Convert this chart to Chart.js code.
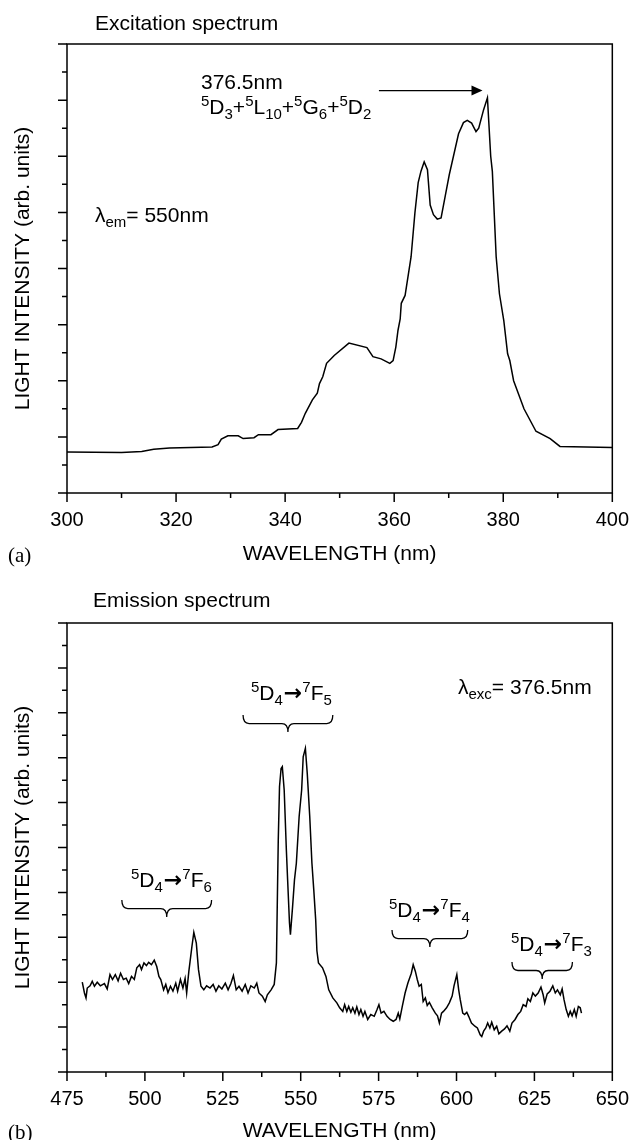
<!DOCTYPE html>
<html><head><meta charset="utf-8">
<script src="https://cdn.jsdelivr.net/npm/chart.js@4.4.1/dist/chart.umd.min.js"></script>
<style>
body{margin:0;background:#fff;}
#wrap{position:relative;width:644px;height:1140px;overflow:hidden;font-family:"Liberation Sans",Arial,sans-serif;color:#000;}
canvas{position:absolute;left:0;}
.t{position:absolute;white-space:nowrap;font-size:21px;line-height:24px;}
.sup{font-size:15px;vertical-align:8px;line-height:0;}
.sub{font-size:15px;vertical-align:-5px;line-height:0;}
.arr{font-family:"DejaVu Sans",sans-serif;font-size:22px;font-weight:bold;margin:0 0 0 1px;line-height:0;}
.serif{font-family:"Liberation Serif","Times New Roman",serif;}
</style></head>
<body><div id="wrap">
<canvas id="cA" width="644" height="570" style="top:0"></canvas>
<canvas id="cB" width="644" height="560" style="top:580px"></canvas>
<div class="t" style="left:95px;top:11px">Excitation spectrum</div>
<div class="t" style="left:201px;top:70px">376.5nm</div>
<div class="t" style="left:201px;top:95px"><span class="sup">5</span>D<span class="sub">3</span>+<span class="sup">5</span>L<span class="sub">10</span>+<span class="sup">5</span>G<span class="sub">6</span>+<span class="sup">5</span>D<span class="sub">2</span></div>
<div class="t" style="left:95px;top:203px">λ<span class="sub">em</span>= 550nm</div>
<div class="t serif" style="left:8px;top:543px">(a)</div>
<div class="t" style="left:93px;top:588px">Emission spectrum</div>
<div class="t" style="left:458px;top:675px">λ<span class="sub">exc</span>= 376.5nm</div>
<div class="t" style="left:251px;top:681px"><span class="sup">5</span>D<span class="sub">4</span><span class="arr">→</span><span class="sup">7</span>F<span class="sub">5</span></div>
<div class="t" style="left:131px;top:868px"><span class="sup">5</span>D<span class="sub">4</span><span class="arr">→</span><span class="sup">7</span>F<span class="sub">6</span></div>
<div class="t" style="left:389px;top:898px"><span class="sup">5</span>D<span class="sub">4</span><span class="arr">→</span><span class="sup">7</span>F<span class="sub">4</span></div>
<div class="t" style="left:511px;top:932px"><span class="sup">5</span>D<span class="sub">4</span><span class="arr">→</span><span class="sup">7</span>F<span class="sub">3</span></div>
<div class="t serif" style="left:8px;top:1120px">(b)</div>
</div>
<script>
// ---- Excitation spectrum (a) ----
const exWavelength = [300,310,313.7,315.9,318.8,326.6,327.7,328.3,329.5,331.4,332.3,334.3,335.1,337.4,338.7,342.3,343.0,343.7,345.0,345.9,346.3,346.9,347.6,349.0,351.7,355.0,356.1,357.6,359.2,359.8,360.3,360.7,361.1,361.3,362.0,363.1,363.8,364.4,364.9,365.5,366.1,366.6,367.2,367.9,368.6,369.4,370.1,371.8,372.7,373.4,374.2,375.0,375.5,376.4,377.1,377.7,378.0,378.7,379.3,380.1,380.8,381.2,381.9,383.8,386.0,388.6,390.4,400];
const exIntensity = [0.73,0.72,0.74,0.78,0.80,0.82,0.86,0.96,1.02,1.02,0.97,0.985,1.04,1.04,1.13,1.15,1.26,1.42,1.66,1.78,1.95,2.07,2.31,2.45,2.67,2.59,2.43,2.39,2.31,2.36,2.6,2.9,3.1,3.38,3.52,4.21,4.99,5.53,5.73,5.90,5.76,5.13,4.96,4.88,4.90,5.31,5.67,6.40,6.60,6.64,6.59,6.44,6.50,6.83,7.04,6.0,5.73,4.21,3.55,3.07,2.48,2.36,2.0,1.50,1.10,0.97,0.83,0.81];
const exXTicks = {min:300, max:400, step:10, labelEvery:20};
const exYTicks = {min:0, max:8, step:0.5, major:1};

// ---- Emission spectrum (b) ----
const emWavelength = [479.9,480.6,481.1,481.5,482.4,483.1,483.8,484.7,485.7,487.0,487.9,488.8,489.6,490.5,491.4,492.2,493.1,494.0,494.8,495.7,496.6,497.4,498.3,498.9,499.7,500.5,501.2,502.1,503.0,503.8,504.5,505.1,506.0,506.7,507.4,508.2,509.0,509.9,510.5,511.4,512.2,512.9,513.4,514.1,515.1,515.7,516.5,517.2,518.0,518.9,519.8,520.9,521.9,522.8,523.7,524.7,525.8,526.7,527.6,528.4,529.3,530.2,531.2,532.2,533.1,534.0,535.1,535.9,536.6,537.7,538.6,539.3,540.5,541.5,542.2,542.6,542.8,543.2,543.7,544.1,544.7,545.4,545.8,546.4,546.7,547.4,548.0,548.6,549.5,550.3,550.8,551.5,552.1,552.9,553.6,554.2,554.8,555.2,555.7,557.0,558.1,559.0,560.3,561.6,562.5,563.5,564.1,564.8,565.4,566.1,566.7,567.4,568.0,568.7,569.3,570.0,570.6,571.5,572.5,573.6,574.5,575.1,575.8,576.7,577.7,578.7,579.7,580.6,581.3,581.8,582.6,583.5,584.4,585.5,586.1,586.8,587.4,588.0,588.7,589.3,590.0,590.6,591.3,592.2,593.2,593.9,594.5,595.2,595.8,596.8,597.7,598.6,599.2,600.1,600.7,601.2,602.0,602.6,603.3,603.9,604.8,605.9,606.7,607.6,608.1,608.7,609.4,610.0,610.7,611.3,612.1,612.9,613.6,614.5,615.4,616.2,617.1,617.8,618.8,619.7,620.6,621.4,622.3,622.9,623.7,624.5,625.3,626.2,627.1,627.8,628.3,629.1,630.0,630.9,631.7,632.4,633.3,633.9,634.5,635.2,635.9,636.5,637.1,637.8,638.4,639.1,639.7,640.1];
const emIntensity = [2.00,1.76,1.65,1.87,1.92,2.02,1.91,2.00,1.92,1.97,1.85,2.17,2.06,2.17,2.03,2.20,2.06,2.09,1.97,2.13,2.06,2.32,2.39,2.28,2.43,2.37,2.44,2.39,2.49,2.35,2.13,2.06,1.83,1.95,1.77,1.91,1.80,1.98,1.80,2.06,1.87,2.08,1.76,2.24,2.80,3.11,2.87,2.28,1.91,1.83,1.92,1.87,1.95,1.80,1.92,1.85,1.98,1.83,1.97,2.15,1.83,1.91,1.80,1.95,1.76,1.92,1.87,1.98,1.76,1.69,1.57,1.72,1.83,1.95,2.43,4.28,5.17,6.36,6.76,6.80,6.28,4.94,4.28,3.32,3.06,3.69,4.28,4.65,5.69,6.28,7.02,7.21,6.65,5.69,4.65,4.05,3.40,2.70,2.43,2.32,2.13,1.83,1.65,1.54,1.43,1.35,1.50,1.35,1.46,1.33,1.43,1.31,1.45,1.28,1.39,1.24,1.35,1.17,1.28,1.24,1.39,1.50,1.31,1.35,1.24,1.17,1.13,1.17,1.31,1.18,1.46,1.76,1.98,2.20,2.39,2.24,2.06,1.91,1.95,1.57,1.65,1.48,1.55,1.43,1.31,1.25,1.09,1.31,1.35,1.43,1.54,1.69,1.92,2.17,1.83,1.61,1.31,1.28,1.33,1.24,1.09,1.02,0.98,0.83,0.79,0.91,0.98,1.09,0.98,1.11,0.94,1.02,0.85,0.91,0.96,1.03,0.91,1.09,1.17,1.28,1.35,1.50,1.46,1.63,1.57,1.76,1.69,1.76,1.89,1.72,1.54,1.74,1.80,1.92,1.76,1.83,1.72,1.85,1.61,1.39,1.24,1.35,1.25,1.39,1.24,1.46,1.43,1.31];
const emXTicks = {min:475, max:650, step:12.5, labelEvery:25};
const emYTicks = {min:0, max:10, step:0.5, major:1};

// annotation anchors in data units
const exArrow = {x0:357.2, x1:376.2, y:7.17};
const emBraces = [
  {x0:531.5, x1:560.3, y:7.95},
  {x0:492.6, x1:521.4, y:3.83},
  {x0:579.3, x1:603.6, y:3.16},
  {x0:617.8, x1:637.2, y:2.45}
];

Chart.defaults.font.family = '"Liberation Sans", Arial, sans-serif';
Chart.defaults.color = '#000';

function isMajor(v, min, every){ const q=(v-min)/every; return Math.abs(q-Math.round(q))<1e-6; }

function drawBrace(ctx, x0, x1, yt, h){
  const ym = yt + h*0.5, yb = yt + h, xm = (x0+x1)/2, r = 6;
  ctx.moveTo(x0, yt);
  ctx.quadraticCurveTo(x0, ym, x0 + r, ym);
  ctx.lineTo(xm - r, ym);
  ctx.quadraticCurveTo(xm, ym, xm, yb);
  ctx.quadraticCurveTo(xm, ym, xm + r, ym);
  ctx.lineTo(x1 - r, ym);
  ctx.quadraticCurveTo(x1, ym, x1, yt);
}

const frameTicks = {
  id: 'frameTicks',
  afterDraw(chart, args, o){
    const {ctx, chartArea:a, scales:{x, y}} = chart;
    ctx.save();
    ctx.strokeStyle = '#000';
    ctx.lineWidth = 1.5;
    ctx.strokeRect(a.left, a.top, a.right-a.left, a.bottom-a.top);
    ctx.beginPath();
    x.ticks.forEach(t => {
      const px = x.getPixelForValue(t.value);
      const len = isMajor(t.value, o.xt.min, o.xt.labelEvery) ? 9 : 5;
      ctx.moveTo(px, a.bottom); ctx.lineTo(px, a.bottom + len);
    });
    y.ticks.forEach(t => {
      const py = y.getPixelForValue(t.value);
      const len = isMajor(t.value, o.yt.min, o.yt.major) ? 9 : 5;
      ctx.moveTo(a.left, py); ctx.lineTo(a.left - len, py);
    });
    ctx.stroke();
    ctx.lineWidth = 1.3;
    if (o.braces) {
      ctx.beginPath();
      o.braces.forEach(b => drawBrace(ctx, x.getPixelForValue(b.x0), x.getPixelForValue(b.x1), y.getPixelForValue(b.y), 17));
      ctx.stroke();
    }
    if (o.arrow) {
      const ax0 = x.getPixelForValue(o.arrow.x0), ax1 = x.getPixelForValue(o.arrow.x1), ay = y.getPixelForValue(o.arrow.y);
      ctx.beginPath(); ctx.moveTo(ax0, ay); ctx.lineTo(ax1 - 8, ay); ctx.stroke();
      ctx.beginPath(); ctx.moveTo(ax1, ay); ctx.lineTo(ax1 - 11, ay - 5); ctx.lineTo(ax1 - 11, ay + 5); ctx.closePath();
      ctx.fillStyle = '#000'; ctx.fill();
    }
    ctx.restore();
  }
};

function makeChart(id, xs, ys, xt, yt, padTop, xHeight, titlePadBottom, extra){
  return new Chart(document.getElementById(id), {
    type: 'line',
    data: { datasets: [{ data: xs.map((v,i)=>({x:v, y:ys[i]})), borderColor:'#000', borderWidth:1.5, pointRadius:0, tension:0, fill:false }] },
    options: {
      responsive:false, animation:false, devicePixelRatio:1,
      layout:{ padding:{ left:0, right:20, top:padTop, bottom:0 } },
      plugins:{ legend:{display:false}, tooltip:{enabled:false}, frameTicks: Object.assign({xt, yt}, extra) },
      scales:{
        x:{ type:'linear', min:xt.min, max:xt.max,
            ticks:{ stepSize:xt.step, autoSkip:false, maxRotation:0, padding:15, color:'#000', font:{size:20},
                    callback:(v)=> isMajor(v, xt.min, xt.labelEvery) ? String(v) : '' },
            grid:{ display:false, drawTicks:false }, border:{ display:false },
            title:{ display:true, text:'WAVELENGTH (nm)', color:'#000', font:{size:21}, padding:{top:0, bottom:titlePadBottom} },
            afterFit:(s)=>{ s.height = xHeight; } },
        y:{ min:yt.min, max:yt.max,
            ticks:{ stepSize:yt.step, display:false },
            grid:{ display:false, drawTicks:false }, border:{ display:false },
            title:{ display:true, text:'LIGHT INTENSITY (arb. units)', color:'#000', font:{size:21}, padding:{top:11, bottom:0} },
            afterFit:(s)=>{ s.width = 67; } }
      }
    },
    plugins:[frameTicks]
  });
}

makeChart('cA', exWavelength, exIntensity, exXTicks, exYTicks, 44, 77, 3, {arrow: exArrow});
makeChart('cB', emWavelength, emIntensity, emXTicks, emYTicks, 43, 68, -4, {braces: emBraces});
</script>
</body></html>
